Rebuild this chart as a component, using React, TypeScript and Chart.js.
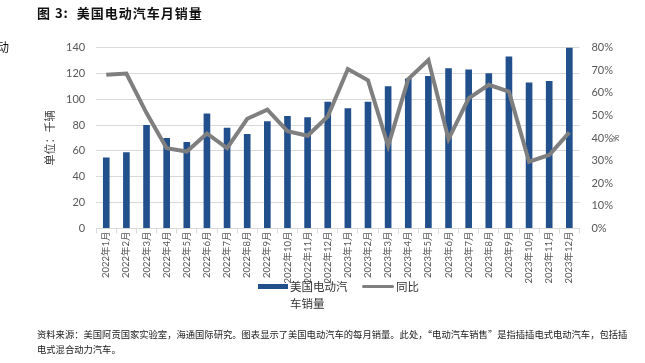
import React, { useEffect, useRef } from "react";
import { Chart, registerables } from "chart.js";
Chart.register(...registerables);

const categories = [
  "2022年1月", "2022年2月", "2022年3月", "2022年4月", "2022年5月", "2022年6月",
  "2022年7月", "2022年8月", "2022年9月", "2022年10月", "2022年11月", "2022年12月",
  "2023年1月", "2023年2月", "2023年3月", "2023年4月", "2023年5月", "2023年6月",
  "2023年7月", "2023年8月", "2023年9月", "2023年10月", "2023年11月", "2023年12月",
];
// 美国电动汽车销量（千辆）
const salesK = [55, 59, 80, 70, 67, 89, 78, 73, 83, 87, 86, 98, 93, 98, 110, 116, 118, 124, 123, 120, 133, 113, 114, 140];
// 同比（%）
const yoyPct = [68, 68.5, 51, 35.5, 34, 42, 35.5, 48.5, 52.5, 43, 41, 49.5, 70.5, 65.5, 36.5, 66, 74.5, 39.5, 57.5, 63.5, 60.5, 29.5, 32.5, 42.5];

const leftMax = 140;
const leftStep = 20;
const rightMax = 80;
const rightStep = 10;

const seriesBarName = "美国电动汽车销量";
const seriesLineName = "同比";
const leftTitle = "单位：千辆";
const rightTitle = "%";

const BLUE = "#22508c";
const GRAY = "#7f7f7f";
const GRID = "#d9d9d9";
const TICK = "#595959";
const FONT = "Lato, 'Noto Sans CJK SC', sans-serif";

export default function App() {
  const ref = useRef<HTMLCanvasElement | null>(null);
  useEffect(() => {
    if (!ref.current) return;
    const chart = new Chart(ref.current, {
      data: {
        labels: categories,
        datasets: [
          {
            type: "line",
            label: seriesLineName,
            data: yoyPct,
            yAxisID: "y1",
            borderColor: GRAY,
            backgroundColor: GRAY,
            borderWidth: 4,
            pointRadius: 0,
            tension: 0,
            order: 0,
          } as any,
          {
            type: "bar",
            label: seriesBarName,
            data: salesK,
            yAxisID: "y",
            backgroundColor: BLUE,
            barPercentage: 0.33,
            categoryPercentage: 1,
            order: 1,
          } as any,
        ],
      },
      options: {
        responsive: false,
        animation: false,
        devicePixelRatio: 1,
        layout: { padding: { left: 43.4, right: 24.6, top: 47.5, bottom: 0 } },
        plugins: { legend: { display: false }, tooltip: { enabled: false } },
        scales: {
          x: {
            offset: true,
            grid: { display: true, drawOnChartArea: false, drawTicks: true, tickLength: 5, color: GRID, offset: true },
            border: { display: true, color: GRID },
            ticks: {
              autoSkip: false,
              maxRotation: 90,
              minRotation: 90,
              padding: -2,
              color: TICK,
              font: { family: FONT, size: 9.5 },
            },
            afterFit: (s: any) => { s.height = 363 - 228.5; },
          },
          y: {
            position: "left",
            min: 0,
            max: leftMax,
            ticks: { stepSize: leftStep, padding: 11, color: TICK, font: { family: FONT, size: 11 } },
            grid: { color: GRID, lineWidth: 1, drawTicks: false },
            border: { display: false },
            title: {
              display: true,
              text: leftTitle,
              color: "#404040",
              padding: 0,
              font: { family: "'Noto Sans CJK SC', sans-serif", size: 11 },
            },
            afterFit: (s: any) => { s.width = 96.2 - 43.4; },
          },
          y1: {
            position: "right",
            min: 0,
            max: rightMax,
            ticks: {
              stepSize: rightStep,
              padding: 12,
              color: TICK,
              font: { family: FONT, size: 11 },
              callback: (v: any) => v + "%",
            },
            grid: { display: false, drawTicks: false },
            border: { display: false },
            title: {
              display: true,
              text: rightTitle,
              color: TICK,
              padding: 0,
              font: { family: FONT, size: 9 },
            },
            afterFit: (s: any) => { s.width = 41; },
          },
        },
      } as any,
    });
    return () => chart.destroy();
  }, []);

  const cjk = "'Noto Sans CJK SC', sans-serif";
  return (
    <div style={{ position: "absolute", left: 0, top: 0, width: 645, height: 363, background: "#fff", overflow: "hidden" }}>
      <canvas ref={ref} width={645} height={363} style={{ position: "absolute", left: 0, top: 0, width: 645, height: 363 }} />
      <div style={{ position: "absolute", left: 37, top: 5, fontFamily: cjk, fontWeight: 700, fontSize: 13, lineHeight: "16px", color: "#111", whiteSpace: "pre", letterSpacing: 1 }}>
        {"图 3:  美国电动汽车月销量"}
      </div>
      <div style={{ position: "absolute", left: -3, top: 39, fontFamily: cjk, fontSize: 12, lineHeight: "16px", color: "#111" }}>动</div>
      {/* legend */}
      <div style={{ position: "absolute", left: 258, top: 284, width: 30, height: 5, background: BLUE }} />
      <div style={{ position: "absolute", left: 290, top: 277.5, fontFamily: cjk, fontSize: 11.5, lineHeight: "17px", color: "#333" }}>
        美国电动汽<br />车销量
      </div>
      <div style={{ position: "absolute", left: 362, top: 284.5, width: 32, height: 3.5, background: GRAY, borderRadius: 2 }} />
      <div style={{ position: "absolute", left: 396, top: 277.5, fontFamily: cjk, fontSize: 11.5, lineHeight: "17px", color: "#333" }}>
        {seriesLineName}
      </div>
      {/* source note */}
      <div style={{ position: "absolute", left: 37, top: 326.5, fontFamily: cjk, fontSize: 9.3, lineHeight: "15px", color: "#222", whiteSpace: "nowrap" }}>
        资料来源：美国阿贡国家实验室，海通国际研究。图表显示了美国电动汽车的每月销量。此处，“电动汽车销售”是指插插电式电动汽车，包括插
        <br />
        电式混合动力汽车。
      </div>
    </div>
  );
}
